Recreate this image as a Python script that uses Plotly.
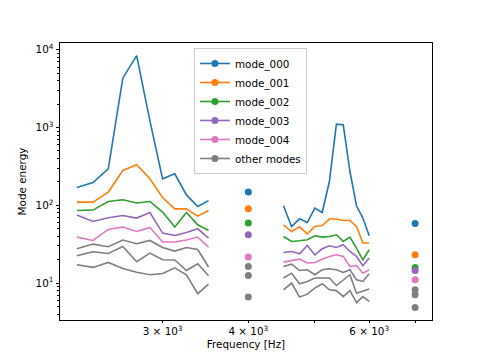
import plotly.graph_objects as go

# Frequencies [Hz]
freq_a = [2250, 2375, 2500, 2625, 2750, 2875, 3000, 3125, 3250, 3375, 3500]
freq_mid = 4000
freq_b = [4500, 4625, 4750, 4875, 5000, 5125, 5250, 5375, 5500, 5625, 5750, 5875, 6000]
freq_end = 7000

# mode_000
m000_a = [169, 196, 294, 4310, 8410, 1220, 219, 254, 136, 96.6, 115]
m000_mid = 148
m000_b = [98.6, 53.4, 67, 60.1, 92, 80.8, 202, 1106, 1083, 272, 98.6, 68.5, 40.5]
m000_end = 58.3
# mode_001
m001_a = [110, 110, 148, 280, 332, 219, 126, 90, 90, 72.6, 85.8]
m001_mid = 90.2
m001_b = [56.2, 46, 52.9, 43, 53.4, 55, 66.5, 66.5, 63.8, 63.8, 53.4, 32.7, 32.7]
m001_end = 23.1
# mode_002
m002_a = [85.8, 86.8, 112, 118, 107, 112, 81.8, 52.5, 80.8, 56.2, 47.4]
m002_mid = 59
m002_b = [39.7, 34.3, 35, 36, 40.5, 39, 39.7, 41.8, 34.3, 39, 28.2, 19.9, 26.8]
m002_end = 15.9
# mode_003
m003_a = [74.8, 61.9, 69.1, 73.9, 68.5, 80.8, 43.9, 40.9, 44.7, 49.9, 37.9]
m003_mid = 41.8
m003_b = [24.7, 25.5, 23.8, 30.4, 23.1, 27.6, 30.2, 28.7, 31.1, 25.5, 22, 16.7, 21]
m003_end = 14.5
# mode_004
m004_a = [39, 35.3, 48.9, 52.5, 46, 51.8, 33.7, 33.7, 35.7, 39, 29]
m004_mid = 21.6
m004_b = [18.6, 19.4, 20.3, 18.1, 18.4, 20.3, 22, 23.1, 22, 16.3, 16.8, 13.4, 14.8]
m004_end = 11
# other modes
o1_a = [27.6, 31.7, 29.3, 35.7, 32, 35.3, 28.7, 25.8, 28.7, 27, 16.1]
o1_mid = 16.3
o1_b = [16.3, 17.5, 14.5, 14.8, 12.8, 14.8, 15.3, 14.8, 13.7, 14.8, 11, 10.5, 13.2]
o1_end = 8.2
o2_a = [22.4, 25.3, 24, 29.5, 18.8, 24.3, 19.9, 19.8, 14.5, 17.7, 12.4]
o2_mid = 12.5
o2_b = [11.6, 13.4, 9.8, 10.5, 11.6, 11.6, 11.6, 9.3, 11, 12.8, 7.4, 7.8, 8.4]
o2_end = 7.1
o3_a = [17.2, 15.9, 18.4, 15.4, 13.8, 12.8, 13.3, 15.7, 12.8, 7.3, 9.7]
o3_mid = 6.6
o3_b = [8.2, 10, 6.6, 7.2, 8.6, 9.8, 8.2, 8, 6.7, 8, 5.6, 6.7, 5.8]
o3_end = 4.86

x_tickvals = [3000, 4000, 6000]
x_ticktext = ["3 × 10<sup>3</sup>", "4 × 10<sup>3</sup>", "6 × 10<sup>3</sup>"]
x_minor = [5000, 7000]
y_tickvals = [10, 100, 1000, 10000]
y_ticktext = ["10<sup>1</sup>", "10<sup>2</sup>", "10<sup>3</sup>", "10<sup>4</sup>"]

series = [
    ("mode_000", "#1f77b4", m000_a, m000_mid, m000_b, m000_end, True),
    ("mode_001", "#ff7f0e", m001_a, m001_mid, m001_b, m001_end, True),
    ("mode_002", "#2ca02c", m002_a, m002_mid, m002_b, m002_end, True),
    ("mode_003", "#9467bd", m003_a, m003_mid, m003_b, m003_end, True),
    ("mode_004", "#e377c2", m004_a, m004_mid, m004_b, m004_end, True),
    ("other modes", "#7f7f7f", o1_a, o1_mid, o1_b, o1_end, True),
    ("other modes", "#7f7f7f", o2_a, o2_mid, o2_b, o2_end, False),
    ("other modes", "#7f7f7f", o3_a, o3_mid, o3_b, o3_end, False),
]

fig = go.Figure()
for name, color, ya, ym, yb, ye, show in reversed(series):
    fig.add_trace(go.Scatter(
        x=freq_a + [None] + freq_b, y=ya + [None] + yb,
        mode="lines", line=dict(color=color, width=1.6),
        showlegend=False, legendgroup=name, hoverinfo="skip"))
for name, color, ya, ym, yb, ye, show in series:
    fig.add_trace(go.Scatter(
        x=[freq_mid, None, freq_end], y=[ym, None, ye],
        mode="lines+markers", line=dict(color=color, width=1.6),
        marker=dict(color=color, size=7),
        name=name, showlegend=show, legendgroup=name))

minor_y = [m * 10 ** k for k in range(0, 4) for m in range(2, 10)]

font = dict(family="DejaVu Sans", size=10.4, color="#000000")
fig.update_layout(
    width=480, height=360,
    margin=dict(l=60, r=48, t=43, b=40),
    paper_bgcolor="white", plot_bgcolor="white",
    font=font,
    legend=dict(x=0.36, y=0.982, xanchor="left", yanchor="top",
                bgcolor="rgba(255,255,255,0.8)", bordercolor="#cccccc",
                borderwidth=1, font=font, tracegroupgap=0, itemwidth=30),
    xaxis=dict(
        type="log", range=[3.3276, 3.8697], automargin=False,
        tickvals=x_tickvals, ticktext=x_ticktext,
        ticks="outside", ticklen=2, tickwidth=1, tickcolor="black",
        minor=dict(tickvals=x_minor, ticks="outside", ticklen=2,
                   tickwidth=1, tickcolor="black", showgrid=False),
        showline=True, linecolor="black", linewidth=1, mirror=True,
        showgrid=False, zeroline=False,
        title=dict(text="Frequency [Hz]", font=font, standoff=4),
    ),
    yaxis=dict(
        type="log", range=[0.525, 4.087], automargin=False,
        tickvals=y_tickvals, ticktext=y_ticktext,
        ticks="outside", ticklen=3.5, tickwidth=1, tickcolor="black",
        minor=dict(tickvals=minor_y, ticks="outside", ticklen=2,
                   tickwidth=0.8, tickcolor="black", showgrid=False),
        showline=True, linecolor="black", linewidth=1, mirror=True,
        showgrid=False, zeroline=False,
        title=dict(text="Mode energy", font=font, standoff=6),
    ),
)

fig.write_html("out.html",
               config={"displayModeBar": False},
               post_script="document.body.style.margin='0';")
